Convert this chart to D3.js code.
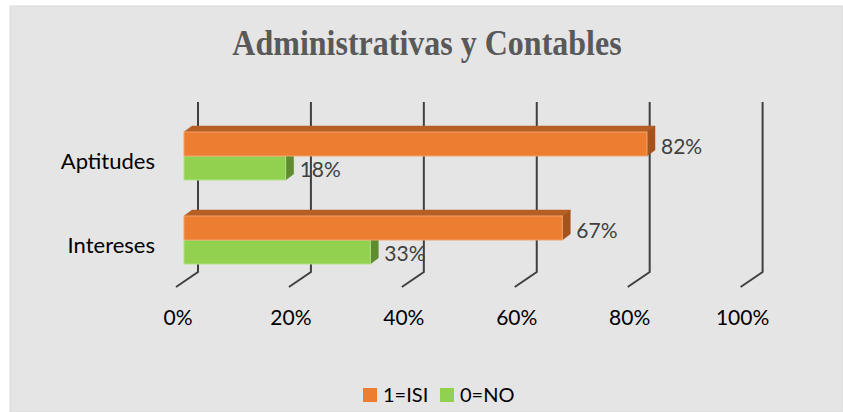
<!DOCTYPE html>
<html>
<head>
<meta charset="utf-8">
<script src="https://cdn.jsdelivr.net/npm/d3@7"></script>
<style>
  body { margin: 0; background: #fff; }
  svg { display: block; }
</style>
</head>
<body>
<script>
// data
var categories = ['Aptitudes', 'Intereses'];
var seriesNames = ['1=ISI', '0=NO'];
var siValues = [0.82, 0.67];
var noValues = [0.18, 0.33];
var tickValues = [0, 0.2, 0.4, 0.6, 0.8, 1];

var W = 843, H = 412;
var depth = {dx: 8, dy: -6};      // bar depth
var wall = {dx: 14, top: 102, bottom: 272}; // back wall grid
var floorOff = {dx: -22, dy: 15};

var front = '#ED7D31', frontTop = '#B65F25', frontSide = '#A4531D';
var green = '#92D050', greenSide = '#5F8C2F';
var colors = [front, green];

var svg = d3.select('body').append('svg')
    .attr('width', W)
    .attr('height', H);

// chart background
svg.append('rect')
    .attr('x', 10).attr('y', 6)
    .attr('width', W - 10).attr('height', H - 6)
    .style('fill', '#e5e5e5')
    .style('stroke', '#dadada');

// title (a bit taller than wide, like the original)
svg.append('text')
    .attr('transform', 'translate(427,55) scale(1,1.12)')
    .style('text-anchor', 'middle')
    .style('font-family', '"Liberation Serif", "Times New Roman", serif')
    .style('font-weight', 'bold')
    .style('font-size', '32px')
    .style('fill', '#595959')
    .text('Administrativas y Contables');

var x = d3.scaleLinear().domain([0, 1]).range([184, 748.6]);

var y = d3.scaleBand()
    .domain(categories)
    .range([114, 282])
    .paddingInner(0.4286)
    .paddingOuter(0.2143);

var ySub = d3.scaleBand()
    .domain(seriesNames)
    .range([0, y.bandwidth()]);

// gridlines on the back wall and floor
var grid = svg.append('g').attr('class', 'grid');
grid.selectAll('path')
    .data(tickValues)
    .enter()
    .append('path')
    .attr('d', function(d) {
        var bx = x(d) + wall.dx;
        return 'M' + bx + ',' + wall.top + 'L' + bx + ',' + wall.bottom +
            'L' + (bx + floorOff.dx) + ',' + (wall.bottom + floorOff.dy);
    })
    .style('fill', 'none')
    .style('stroke', '#404040')
    .style('stroke-width', 2);

// axis labels
svg.append('g').selectAll('text')
    .data(tickValues)
    .enter()
    .append('text')
    .attr('x', function(d) { return x(d) + wall.dx - 20; })
    .attr('y', 325)
    .style('text-anchor', 'middle')
    .style('font-family', 'Lato, "Open Sans", sans-serif')
    .style('font-size', '21px')
    .style('fill', '#000')
    .text(d3.format('.0%'));

// category labels
svg.append('g').selectAll('text')
    .data(categories)
    .enter()
    .append('text')
    .attr('x', 155)
    .attr('y', function(d) { return y(d) + y.bandwidth() / 2 + 13; })
    .style('text-anchor', 'end')
    .style('font-family', 'Lato, "Open Sans", sans-serif')
    .style('font-size', '22px')
    .style('fill', '#000')
    .text(function(d) { return d; });

// bars, green first so the orange sits on top
var series = [
    {name: seriesNames[1], values: noValues, face: green, top: green, side: greenSide, edge: '#b3e08a'},
    {name: seriesNames[0], values: siValues, face: front, top: frontTop, side: frontSide, edge: '#f2a46f'}
];

series.forEach(function(s) {
    var g = svg.append('g').attr('class', 'bars');
    var rows = g.selectAll('g')
        .data(categories.map(function(c, i) { return {cat: c, v: s.values[i]}; }))
        .enter()
        .append('g');

    rows.append('path') // top face
        .attr('d', function(d) {
            var x0 = x(0), x1 = x(d.v), yy = y(d.cat) + ySub(s.name);
            return 'M' + x0 + ',' + yy + 'L' + (x0 + depth.dx) + ',' + (yy + depth.dy) +
                'L' + (x1 + depth.dx) + ',' + (yy + depth.dy) + 'L' + x1 + ',' + yy + 'Z';
        })
        .style('fill', s.top)
        .style('stroke', s.top)
        .style('stroke-width', 0.5);

    rows.append('path') // side face
        .attr('d', function(d) {
            var x1 = x(d.v), yy = y(d.cat) + ySub(s.name), h = ySub.bandwidth();
            return 'M' + x1 + ',' + yy + 'L' + (x1 + depth.dx) + ',' + (yy + depth.dy) +
                'L' + (x1 + depth.dx) + ',' + (yy + h + depth.dy) + 'L' + x1 + ',' + (yy + h) + 'Z';
        })
        .style('fill', s.side)
        .style('stroke', s.side)
        .style('stroke-width', 0.5);

    rows.append('rect') // front face
        .attr('x', x(0))
        .attr('y', function(d) { return y(d.cat) + ySub(s.name); })
        .attr('width', function(d) { return x(d.v) - x(0); })
        .attr('height', ySub.bandwidth())
        .style('fill', s.face)
        .style('stroke', s.edge)
        .style('stroke-width', 1);

    rows.append('text')
        .attr('x', function(d) { return x(d.v) + depth.dx + 6; })
        .attr('y', function(d) { return y(d.cat) + ySub(s.name) + ySub.bandwidth() / 2 + 9.5; })
        .style('font-family', 'Lato, "Open Sans", sans-serif')
        .style('font-size', '21px')
        .style('fill', '#404040')
        .text(function(d) { return d3.format('.0%')(d.v); });
});

// legend
var legend = svg.append('g')
    .selectAll('g')
    .data(seriesNames)
    .enter()
    .append('g')
    .attr('transform', function(d, i) { return 'translate(' + (363 + i * 77) + ',388)'; });

legend.append('rect')
    .attr('width', 14)
    .attr('height', 14)
    .style('fill', function(d, i) { return colors[i]; });

legend.append('text')
    .attr('x', 20)
    .attr('y', 14)
    .style('font-family', 'Lato, "Open Sans", sans-serif')
    .style('font-size', '20px')
    .style('fill', '#000')
    .text(function(d) { return d; });
</script>
</body>
</html>
